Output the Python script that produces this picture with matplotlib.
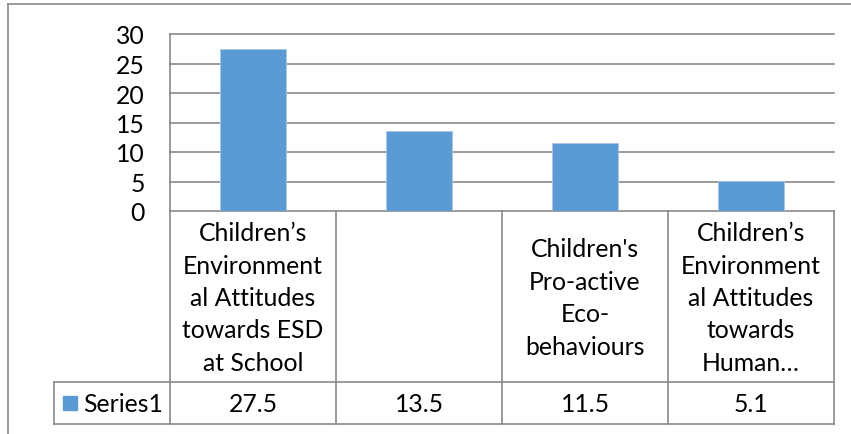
import matplotlib
matplotlib.use('Agg')
import matplotlib.pyplot as plt
import matplotlib.transforms as mtransforms

plt.rcParams['font.family'] = ['Lato', 'DejaVu Sans']

categories = ["Children\u2019s\nEnvironment\nal Attitudes\ntowards ESD\nat School",
              "",
              "Children's\nPro-active\nEco-\nbehaviours",
              "Children\u2019s\nEnvironment\nal Attitudes\ntowards\nHuman\u2026"]
values = [27.5, 13.5, 11.5, 5.1]
value_labels = ["27.5", "13.5", "11.5", "5.1"]
series_name = "Series1"
yticks = [0, 5, 10, 15, 20, 25, 30]

W, H = 851, 435
bar_color = '#5B9BD5'
line_color = '#8a8a8a'
fs = 17.8

fig = plt.figure(figsize=(W / 100, H / 100), dpi=100)

# outer chart frame
fig.add_artist(plt.Line2D([8 / W, 8 / W], [0, 1 - 5 / H], transform=fig.transFigure, color=line_color, lw=1.2))
fig.add_artist(plt.Line2D([8 / W, 1], [1 - 5 / H, 1 - 5 / H], transform=fig.transFigure, color=line_color, lw=1.2))

left, right, top, zero = 170, 834, 35, 212
ax = fig.add_axes([left / W, 1 - zero / H, (right - left) / W, (zero - top) / H])
x = list(range(len(values)))
ax.bar(x, values, width=0.4, color=bar_color, edgecolor='#a9c8ea', linewidth=0.6, zorder=3)
ax.set_xlim(-0.5, len(values) - 0.5)
ax.set_ylim(0, 30)
ax.set_yticks(yticks)
ax.set_yticklabels([str(t) for t in yticks], fontsize=fs)
ax.tick_params(axis='y', length=0, pad=18)
ax.set_xticks([])
for t in yticks:
    ax.axhline(t, color=line_color, lw=1.2, zorder=1, clip_on=False)
for s in ['top', 'right', 'bottom']:
    ax.spines[s].set_visible(False)
ax.spines['left'].set_color(line_color)
ax.spines['left'].set_linewidth(1.2)

# data table below the axis
tr = mtransforms.blended_transform_factory(ax.transData, fig.transFigure)
def fy(py):
    return 1 - py / H

row_mid = 383
row_bot = 425
hdr_left = 54
for b in [i - 0.5 for i in range(len(values) + 1)]:
    fig.add_artist(plt.Line2D([b, b], [fy(zero), fy(row_bot)], transform=tr, color=line_color, lw=1.2))
for py in [row_mid, row_bot]:
    fig.add_artist(plt.Line2D([hdr_left / W, right / W], [fy(py), fy(py)], transform=fig.transFigure,
                              color=line_color, lw=1.2))
fig.add_artist(plt.Line2D([hdr_left / W, hdr_left / W], [fy(row_mid), fy(row_bot)], transform=fig.transFigure,
                          color=line_color, lw=1.2))

for i, (cat, lab) in enumerate(zip(categories, value_labels)):
    fig.text(i, fy((zero + row_mid) / 2 + 1), cat, transform=tr, ha='center', va='center',
             multialignment='center', fontsize=fs, linespacing=1.5)
    fig.text(i, fy((row_mid + row_bot) / 2 + 1), lab, transform=tr, ha='center', va='center', fontsize=fs)

# series key in header cell
fig.add_artist(plt.Rectangle((63 / W, fy(411)), 14 / W, 14 / H, transform=fig.transFigure,
                             color=bar_color))
fig.text(83 / W, fy((row_mid + row_bot) / 2 + 1), series_name, ha='left', va='center', fontsize=fs)

fig.savefig('out.png', dpi=100)
